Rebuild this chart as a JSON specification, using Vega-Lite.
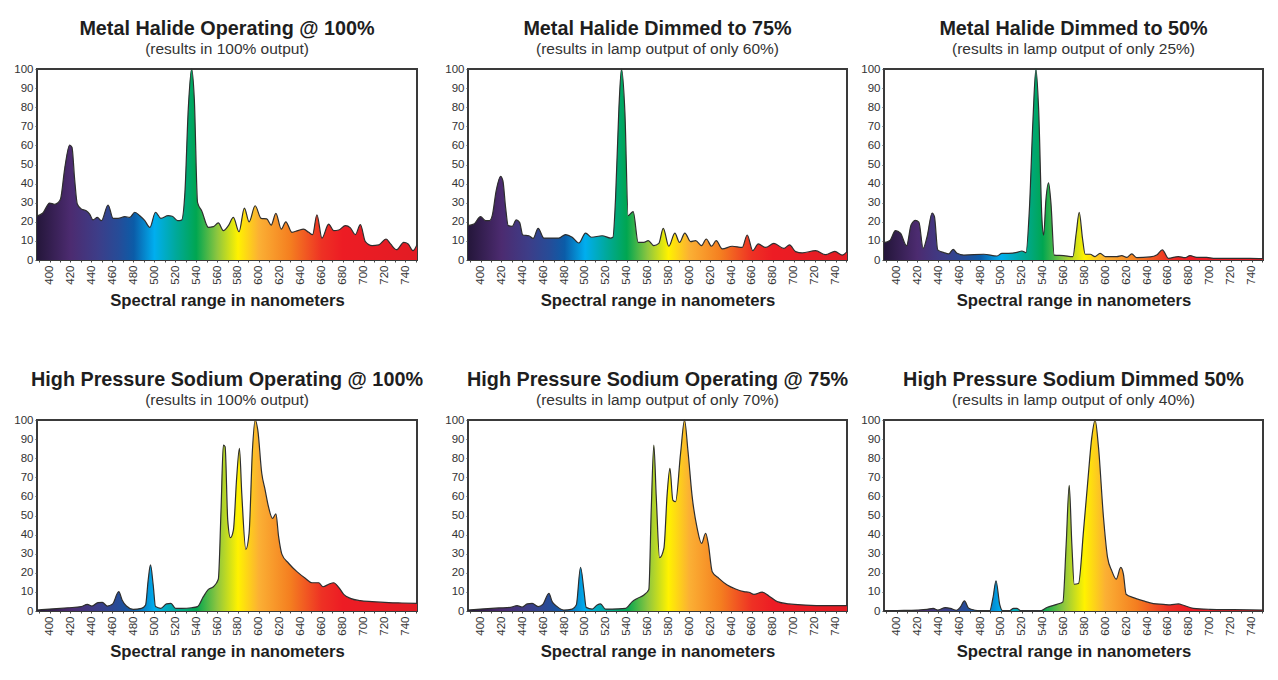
{
  "$schema": "https://vega.github.io/schema/vega-lite/v6.json",
  "background": "white",
  "padding": {"left": 6, "top": 17, "right": 5, "bottom": 5},
  "datasets": {
    "mh100": [
      {"nm":388,"v":23},{"nm":393.6,"v":24.6},{"nm":400,"v":29.8},{"nm":404.8,"v":29.2},{"nm":408,"v":30},{"nm":410.5,"v":32},{"nm":414.4,"v":47.6},{"nm":419.2,"v":60.2},{"nm":421.4,"v":59},{"nm":424,"v":42},{"nm":426.5,"v":29.3},{"nm":430.3,"v":26.7},{"nm":435,"v":25.8},{"nm":438.3,"v":24},{"nm":441.5,"v":21},{"nm":445.7,"v":22.3},{"nm":449.5,"v":20.6},{"nm":455.9,"v":28.8},{"nm":460.7,"v":21.8},{"nm":465.5,"v":21.8},{"nm":471.8,"v":22.7},{"nm":476.6,"v":22.3},{"nm":481.4,"v":25},{"nm":486.2,"v":23.2},{"nm":491,"v":20.6},{"nm":495.8,"v":17.1},{"nm":501.2,"v":25},{"nm":506.3,"v":21.8},{"nm":513.3,"v":23.2},{"nm":517.2,"v":22.9},{"nm":522.3,"v":20.6},{"nm":526.1,"v":20.9},{"nm":529.3,"v":35.4},{"nm":532.5,"v":79},{"nm":535.7,"v":100},{"nm":538.3,"v":84},{"nm":541.4,"v":30},{"nm":545.3,"v":25.8},{"nm":551.7,"v":17.1},{"nm":556.5,"v":17.5},{"nm":561.2,"v":19.4},{"nm":566,"v":15.4},{"nm":570.8,"v":18},{"nm":575.6,"v":22.3},{"nm":581,"v":14.8},{"nm":586.1,"v":27.2},{"nm":590.6,"v":20},{"nm":596.4,"v":28.4},{"nm":602.1,"v":21.8},{"nm":607.5,"v":21.5},{"nm":611.7,"v":18.3},{"nm":616.2,"v":24.4},{"nm":621.3,"v":16.2},{"nm":625.7,"v":20},{"nm":631.5,"v":14.5},{"nm":637.2,"v":15.4},{"nm":642.7,"v":16.2},{"nm":647.5,"v":14.5},{"nm":651.3,"v":13.3},{"nm":655.4,"v":23.7},{"nm":660.2,"v":11.5},{"nm":666.6,"v":18.8},{"nm":671.4,"v":15.4},{"nm":676.2,"v":15.7},{"nm":682.6,"v":18},{"nm":687.4,"v":16.8},{"nm":692.1,"v":13.3},{"nm":696.9,"v":18.5},{"nm":701.7,"v":9.6},{"nm":708.1,"v":7.5},{"nm":714.5,"v":7.9},{"nm":721.5,"v":11},{"nm":725.7,"v":8.4},{"nm":731.4,"v":5.4},{"nm":738.4,"v":9.2},{"nm":742.6,"v":8.4},{"nm":747.1,"v":4.9},{"nm":751,"v":8}
    ],
    "mh75": [
      {"nm":388,"v":18},{"nm":393.6,"v":18.8},{"nm":400,"v":22.7},{"nm":404.8,"v":20.6},{"nm":408.6,"v":20.6},{"nm":411.2,"v":23.2},{"nm":415,"v":36.3},{"nm":419.2,"v":43.8},{"nm":421.4,"v":41.5},{"nm":424,"v":27.6},{"nm":426.5,"v":18},{"nm":430.3,"v":17.6},{"nm":434.2,"v":21},{"nm":437.4,"v":19.7},{"nm":440.5,"v":13.1},{"nm":446.3,"v":12.7},{"nm":450.4,"v":11.3},{"nm":455.2,"v":16.6},{"nm":460.7,"v":11.5},{"nm":468.6,"v":11.5},{"nm":475,"v":11.5},{"nm":481.4,"v":13.3},{"nm":487.8,"v":11.9},{"nm":494.2,"v":8.9},{"nm":500.6,"v":14.1},{"nm":506.3,"v":11.9},{"nm":516.5,"v":12.7},{"nm":524.5,"v":11.5},{"nm":526.8,"v":11.9},{"nm":529.3,"v":32},{"nm":532.5,"v":79},{"nm":535,"v":100},{"nm":538.3,"v":77},{"nm":541.4,"v":23.2},{"nm":544.3,"v":24.6},{"nm":546.2,"v":25.3},{"nm":551,"v":9.2},{"nm":556.5,"v":9.2},{"nm":560.6,"v":10.1},{"nm":566,"v":7.5},{"nm":570.8,"v":8.7},{"nm":575,"v":16.6},{"nm":580.4,"v":7.2},{"nm":586.1,"v":14.1},{"nm":590.6,"v":9.2},{"nm":595.7,"v":14.1},{"nm":601.2,"v":9.6},{"nm":606,"v":10.1},{"nm":611.7,"v":7.5},{"nm":616.2,"v":11},{"nm":621.3,"v":7.2},{"nm":625.7,"v":10.1},{"nm":631.5,"v":5.8},{"nm":641.1,"v":7.2},{"nm":650.7,"v":6.6},{"nm":655.4,"v":13.1},{"nm":660.8,"v":4.9},{"nm":666,"v":8.4},{"nm":673,"v":6.6},{"nm":681,"v":8.7},{"nm":690.5,"v":6.1},{"nm":696,"v":7.9},{"nm":701.7,"v":4.4},{"nm":708.1,"v":3.7},{"nm":720.9,"v":4.9},{"nm":730.5,"v":2.8},{"nm":739.4,"v":4.5},{"nm":746.4,"v":2.6},{"nm":751,"v":4.4}
    ],
    "mh50": [
      {"nm":388,"v":9.1},{"nm":393.6,"v":10.2},{"nm":399,"v":15.4},{"nm":403.8,"v":14},{"nm":409.6,"v":7.5},{"nm":414,"v":18.4},{"nm":418.2,"v":20.7},{"nm":421.4,"v":19.8},{"nm":425.5,"v":6.1},{"nm":429.3,"v":12.3},{"nm":434.1,"v":24.6},{"nm":436.3,"v":22.8},{"nm":439.5,"v":5.3},{"nm":445.3,"v":3.9},{"nm":450,"v":3.2},{"nm":454.2,"v":5.6},{"nm":458,"v":3.5},{"nm":464.4,"v":2.6},{"nm":483.5,"v":3},{"nm":496.2,"v":2.1},{"nm":501,"v":3.5},{"nm":507.4,"v":3.5},{"nm":515.4,"v":4},{"nm":520.1,"v":4.7},{"nm":524,"v":3.9},{"nm":527.2,"v":26},{"nm":530.7,"v":73.7},{"nm":533.5,"v":100},{"nm":536.1,"v":79},{"nm":539.3,"v":21},{"nm":540.9,"v":13},{"nm":543.1,"v":31.6},{"nm":545.6,"v":40.4},{"nm":547.9,"v":29.8},{"nm":551,"v":2.6},{"nm":560,"v":2.3},{"nm":568.9,"v":1.8},{"nm":572.1,"v":14},{"nm":575,"v":24.9},{"nm":578.1,"v":11.4},{"nm":580.7,"v":3},{"nm":585.5,"v":3},{"nm":590.2,"v":1.8},{"nm":595,"v":3.5},{"nm":599.8,"v":1.8},{"nm":611,"v":1.8},{"nm":615.7,"v":2.3},{"nm":620.5,"v":1.4},{"nm":625.3,"v":3.2},{"nm":630.1,"v":1.2},{"nm":642.8,"v":1.6},{"nm":649.2,"v":2.6},{"nm":654.6,"v":5.3},{"nm":660.4,"v":0.9},{"nm":670,"v":1.8},{"nm":676.3,"v":1.2},{"nm":681.1,"v":2.3},{"nm":687.5,"v":1.4},{"nm":697,"v":1.4},{"nm":703.4,"v":0.9},{"nm":722.5,"v":0.9},{"nm":738.4,"v":0.9},{"nm":751,"v":0.7}
    ],
    "hps100": [
      {"nm":388,"v":0.5},{"nm":400,"v":1},{"nm":417.6,"v":1.7},{"nm":430.3,"v":2.3},{"nm":436.1,"v":3.5},{"nm":440.5,"v":2.6},{"nm":446.3,"v":4.4},{"nm":450.4,"v":4.5},{"nm":455.2,"v":2.6},{"nm":460,"v":3.5},{"nm":466.1,"v":10.1},{"nm":469.3,"v":5.8},{"nm":473.4,"v":2.6},{"nm":479.8,"v":0.9},{"nm":487.8,"v":1.4},{"nm":491.7,"v":3.1},{"nm":494.2,"v":16.2},{"nm":496.4,"v":24.1},{"nm":499,"v":13.6},{"nm":501.2,"v":2.3},{"nm":506.3,"v":1.4},{"nm":511.7,"v":3.7},{"nm":515.9,"v":4},{"nm":520.4,"v":1.4},{"nm":526.1,"v":1.4},{"nm":535.7,"v":1.7},{"nm":541.4,"v":2.3},{"nm":546.9,"v":7.5},{"nm":551.7,"v":11.3},{"nm":556.5,"v":12.7},{"nm":561.2,"v":16.6},{"nm":563.8,"v":52.9},{"nm":566,"v":86.9},{"nm":567.7,"v":86},{"nm":570.2,"v":47.6},{"nm":572.8,"v":38.4},{"nm":575.6,"v":42.4},{"nm":578.8,"v":70.3},{"nm":581.4,"v":85.2},{"nm":583.6,"v":61.6},{"nm":587.5,"v":32.3},{"nm":590.6,"v":40.7},{"nm":593.8,"v":84.3},{"nm":596.4,"v":100},{"nm":598.9,"v":94.8},{"nm":602.7,"v":72.1},{"nm":605.9,"v":63.4},{"nm":609.1,"v":54.6},{"nm":612.9,"v":48.5},{"nm":616.2,"v":50.8},{"nm":618.8,"v":38.9},{"nm":621.9,"v":29.8},{"nm":628.3,"v":25},{"nm":636.3,"v":20.6},{"nm":644.3,"v":17.1},{"nm":650.7,"v":14.8},{"nm":657.1,"v":14.8},{"nm":661.2,"v":12.7},{"nm":666.6,"v":14},{"nm":671.4,"v":14.8},{"nm":676.2,"v":12.4},{"nm":681,"v":8.7},{"nm":687.4,"v":6.6},{"nm":696.9,"v":5.4},{"nm":708.1,"v":4.9},{"nm":724.1,"v":4.4},{"nm":736.8,"v":4.2},{"nm":751,"v":4}
    ],
    "hps75": [
      {"nm":388,"v":0.5},{"nm":400,"v":1},{"nm":417.6,"v":1.6},{"nm":428.7,"v":1.9},{"nm":435,"v":2.8},{"nm":439.9,"v":2.1},{"nm":444.7,"v":3.7},{"nm":449.5,"v":4},{"nm":455.2,"v":2.3},{"nm":459.7,"v":3.5},{"nm":465.5,"v":9.2},{"nm":468.6,"v":4.9},{"nm":473.4,"v":2.3},{"nm":479.8,"v":0.5},{"nm":487.8,"v":1},{"nm":491.7,"v":3.1},{"nm":495.8,"v":22.9},{"nm":499,"v":11},{"nm":501.2,"v":1.9},{"nm":507,"v":1},{"nm":511.7,"v":3.1},{"nm":514.9,"v":3.7},{"nm":519.7,"v":1},{"nm":526.1,"v":1},{"nm":538.9,"v":1.4},{"nm":545.3,"v":4.9},{"nm":550.1,"v":6.6},{"nm":556.5,"v":8.4},{"nm":561.2,"v":11.3},{"nm":563.5,"v":52.9},{"nm":566,"v":86.9},{"nm":568.3,"v":59.9},{"nm":571.5,"v":27.9},{"nm":575.6,"v":32.8},{"nm":578.8,"v":61.6},{"nm":581.4,"v":74.7},{"nm":584.2,"v":58.1},{"nm":586.8,"v":57.2},{"nm":591.6,"v":82.5},{"nm":595.4,"v":100},{"nm":598.6,"v":84.3},{"nm":602.7,"v":59.9},{"nm":607.5,"v":43.3},{"nm":611.7,"v":35.4},{"nm":615.6,"v":40.7},{"nm":618.1,"v":35.4},{"nm":621.9,"v":20.6},{"nm":628.3,"v":17.1},{"nm":636.3,"v":13.6},{"nm":644.3,"v":11.5},{"nm":652.3,"v":10.1},{"nm":657.1,"v":9.8},{"nm":661.9,"v":8.7},{"nm":669.8,"v":9.9},{"nm":676.2,"v":7.9},{"nm":684.2,"v":4.9},{"nm":695.3,"v":3.7},{"nm":711.3,"v":3.1},{"nm":730.5,"v":2.8},{"nm":751,"v":2.8}
    ],
    "hps50": [
      {"nm":388,"v":0},{"nm":400.6,"v":0.2},{"nm":419.8,"v":0.5},{"nm":429.3,"v":0.9},{"nm":435.1,"v":1.4},{"nm":439.5,"v":0.5},{"nm":446.8,"v":1.8},{"nm":451.6,"v":1.4},{"nm":457.4,"v":0.4},{"nm":461.2,"v":2.1},{"nm":465,"v":5.3},{"nm":469.2,"v":1.4},{"nm":475.5,"v":0.4},{"nm":481.9,"v":0},{"nm":489.2,"v":0},{"nm":492.4,"v":7},{"nm":495.3,"v":15.8},{"nm":498.8,"v":3.5},{"nm":502,"v":0},{"nm":507.4,"v":0},{"nm":512.2,"v":1.4},{"nm":515.4,"v":1.4},{"nm":519.2,"v":0},{"nm":537.7,"v":0},{"nm":544,"v":1.8},{"nm":553.6,"v":3.5},{"nm":559.3,"v":4.7},{"nm":562.5,"v":35.1},{"nm":565.4,"v":65.8},{"nm":567.9,"v":35.1},{"nm":570.2,"v":14},{"nm":574.3,"v":14.4},{"nm":579.1,"v":42.1},{"nm":583,"v":66.7},{"nm":587.1,"v":91.2},{"nm":590.2,"v":100},{"nm":593.4,"v":86},{"nm":598.2,"v":49.1},{"nm":602.1,"v":28.1},{"nm":606.2,"v":21},{"nm":610.4,"v":16.7},{"nm":614.8,"v":22.8},{"nm":617.3,"v":19.3},{"nm":619.9,"v":8.8},{"nm":626.9,"v":7},{"nm":636.5,"v":5.3},{"nm":646,"v":3.9},{"nm":655.6,"v":3.5},{"nm":662,"v":3.2},{"nm":670,"v":3.7},{"nm":674.7,"v":3},{"nm":684.3,"v":1.4},{"nm":700.2,"v":0.9},{"nm":722.5,"v":0.7},{"nm":751,"v":0.5}
    ]
  },
  "columns": 3,
  "align": "each",
  "spacing": {"row": 58, "column": 0},
  "concat": [
    {
      "data": {"name": "mh100"}, "width": 380, "height": 191,
      "title": {"text": "Metal Halide Operating @ 100%", "subtitle": "(results in 100% output)"},
      "mark": {"type": "area", "interpolate": "monotone", "opacity": 1, "fillOpacity": 1, "fill": {"gradient": "linear", "x1": 0, "y1": 0, "x2": 1, "y2": 0, "stops": [{"offset": 0, "color": "#24163a"}, {"offset": 0.088, "color": "#4c2b70"}, {"offset": 0.16, "color": "#3d3d88"}, {"offset": 0.215, "color": "#264c98"}, {"offset": 0.255, "color": "#0b5ca8"}, {"offset": 0.309, "color": "#00aeef"}, {"offset": 0.364, "color": "#00a99d"}, {"offset": 0.419, "color": "#00a651"}, {"offset": 0.474, "color": "#8dc63f"}, {"offset": 0.529, "color": "#fff200"}, {"offset": 0.584, "color": "#fbb034"}, {"offset": 0.667, "color": "#f47e20"}, {"offset": 0.749, "color": "#ee3124"}, {"offset": 0.804, "color": "#ed1c24"}, {"offset": 1, "color": "#e21c24"}]}, "line": {"stroke": "#2e2e2e", "strokeWidth": 1.2}},
      "encoding": {
        "x": {"field": "nm", "type": "quantitative", "scale": {"domain": [388, 751], "nice": false, "zero": false}, "axis": {"title": "Spectral range in nanometers", "values": [390,400,410,420,430,440,450,460,470,480,490,500,510,520,530,540,550,560,570,580,590,600,610,620,630,640,650,660,670,680,690,700,710,720,730,740,750], "labelExpr": "datum.value % 20 == 0 ? datum.label : ''"}},
        "y": {"field": "v", "type": "quantitative", "scale": {"domain": [0, 100], "nice": false}, "axis": {"title": null, "minExtent": 30, "maxExtent": 30, "values": [0,10,20,30,40,50,60,70,80,90,100]}}
      }
    },
    {
      "data": {"name": "mh75"}, "width": 379, "height": 191,
      "title": {"text": "Metal Halide Dimmed to 75%", "subtitle": "(results in lamp output of only 60%)"},
      "mark": {"type": "area", "interpolate": "monotone", "opacity": 1, "fillOpacity": 1, "fill": {"gradient": "linear", "x1": 0, "y1": 0, "x2": 1, "y2": 0, "stops": [{"offset": 0, "color": "#24163a"}, {"offset": 0.088, "color": "#4c2b70"}, {"offset": 0.16, "color": "#3d3d88"}, {"offset": 0.215, "color": "#264c98"}, {"offset": 0.255, "color": "#0b5ca8"}, {"offset": 0.309, "color": "#00aeef"}, {"offset": 0.364, "color": "#00a99d"}, {"offset": 0.419, "color": "#00a651"}, {"offset": 0.474, "color": "#8dc63f"}, {"offset": 0.529, "color": "#fff200"}, {"offset": 0.584, "color": "#fbb034"}, {"offset": 0.667, "color": "#f47e20"}, {"offset": 0.749, "color": "#ee3124"}, {"offset": 0.804, "color": "#ed1c24"}, {"offset": 1, "color": "#e21c24"}]}, "line": {"stroke": "#2e2e2e", "strokeWidth": 1.2}},
      "encoding": {
        "x": {"field": "nm", "type": "quantitative", "scale": {"domain": [388, 751], "nice": false, "zero": false}, "axis": {"title": "Spectral range in nanometers", "values": [390,400,410,420,430,440,450,460,470,480,490,500,510,520,530,540,550,560,570,580,590,600,610,620,630,640,650,660,670,680,690,700,710,720,730,740,750], "labelExpr": "datum.value % 20 == 0 ? datum.label : ''"}},
        "y": {"field": "v", "type": "quantitative", "scale": {"domain": [0, 100], "nice": false}, "axis": {"title": null, "minExtent": 43, "maxExtent": 43, "values": [0,10,20,30,40,50,60,70,80,90,100]}}
      }
    },
    {
      "data": {"name": "mh50"}, "width": 379, "height": 191,
      "title": {"text": "Metal Halide Dimmed to 50%", "subtitle": "(results in lamp output of only 25%)"},
      "mark": {"type": "area", "interpolate": "monotone", "opacity": 1, "fillOpacity": 1, "fill": {"gradient": "linear", "x1": 0, "y1": 0, "x2": 1, "y2": 0, "stops": [{"offset": 0, "color": "#24163a"}, {"offset": 0.088, "color": "#4c2b70"}, {"offset": 0.16, "color": "#3d3d88"}, {"offset": 0.215, "color": "#264c98"}, {"offset": 0.255, "color": "#0b5ca8"}, {"offset": 0.309, "color": "#00aeef"}, {"offset": 0.364, "color": "#00a99d"}, {"offset": 0.419, "color": "#00a651"}, {"offset": 0.474, "color": "#8dc63f"}, {"offset": 0.529, "color": "#fff200"}, {"offset": 0.584, "color": "#fbb034"}, {"offset": 0.667, "color": "#f47e20"}, {"offset": 0.749, "color": "#ee3124"}, {"offset": 0.804, "color": "#ed1c24"}, {"offset": 1, "color": "#e21c24"}]}, "line": {"stroke": "#2e2e2e", "strokeWidth": 1.2}},
      "encoding": {
        "x": {"field": "nm", "type": "quantitative", "scale": {"domain": [388, 751], "nice": false, "zero": false}, "axis": {"title": "Spectral range in nanometers", "values": [390,400,410,420,430,440,450,460,470,480,490,500,510,520,530,540,550,560,570,580,590,600,610,620,630,640,650,660,670,680,690,700,710,720,730,740,750], "labelExpr": "datum.value % 20 == 0 ? datum.label : ''"}},
        "y": {"field": "v", "type": "quantitative", "scale": {"domain": [0, 100], "nice": false}, "axis": {"title": null, "minExtent": 30, "maxExtent": 30, "values": [0,10,20,30,40,50,60,70,80,90,100]}}
      }
    },
    {
      "data": {"name": "hps100"}, "width": 380, "height": 191,
      "title": {"text": "High Pressure Sodium Operating @ 100%", "subtitle": "(results in 100% output)"},
      "mark": {"type": "area", "interpolate": "monotone", "opacity": 1, "fillOpacity": 1, "fill": {"gradient": "linear", "x1": 0, "y1": 0, "x2": 1, "y2": 0, "stops": [{"offset": 0, "color": "#24163a"}, {"offset": 0.088, "color": "#4c2b70"}, {"offset": 0.16, "color": "#3d3d88"}, {"offset": 0.215, "color": "#264c98"}, {"offset": 0.255, "color": "#0b5ca8"}, {"offset": 0.309, "color": "#00aeef"}, {"offset": 0.364, "color": "#00a99d"}, {"offset": 0.419, "color": "#00a651"}, {"offset": 0.474, "color": "#8dc63f"}, {"offset": 0.529, "color": "#fff200"}, {"offset": 0.584, "color": "#fbb034"}, {"offset": 0.667, "color": "#f47e20"}, {"offset": 0.749, "color": "#ee3124"}, {"offset": 0.804, "color": "#ed1c24"}, {"offset": 1, "color": "#e21c24"}]}, "line": {"stroke": "#2e2e2e", "strokeWidth": 1.2}},
      "encoding": {
        "x": {"field": "nm", "type": "quantitative", "scale": {"domain": [388, 751], "nice": false, "zero": false}, "axis": {"title": "Spectral range in nanometers", "values": [390,400,410,420,430,440,450,460,470,480,490,500,510,520,530,540,550,560,570,580,590,600,610,620,630,640,650,660,670,680,690,700,710,720,730,740,750], "labelExpr": "datum.value % 20 == 0 ? datum.label : ''"}},
        "y": {"field": "v", "type": "quantitative", "scale": {"domain": [0, 100], "nice": false}, "axis": {"title": null, "minExtent": 30, "maxExtent": 30, "values": [0,10,20,30,40,50,60,70,80,90,100]}}
      }
    },
    {
      "data": {"name": "hps75"}, "width": 379, "height": 191,
      "title": {"text": "High Pressure Sodium Operating @ 75%", "subtitle": "(results in lamp output of only 70%)"},
      "mark": {"type": "area", "interpolate": "monotone", "opacity": 1, "fillOpacity": 1, "fill": {"gradient": "linear", "x1": 0, "y1": 0, "x2": 1, "y2": 0, "stops": [{"offset": 0, "color": "#24163a"}, {"offset": 0.088, "color": "#4c2b70"}, {"offset": 0.16, "color": "#3d3d88"}, {"offset": 0.215, "color": "#264c98"}, {"offset": 0.255, "color": "#0b5ca8"}, {"offset": 0.309, "color": "#00aeef"}, {"offset": 0.364, "color": "#00a99d"}, {"offset": 0.419, "color": "#00a651"}, {"offset": 0.474, "color": "#8dc63f"}, {"offset": 0.529, "color": "#fff200"}, {"offset": 0.584, "color": "#fbb034"}, {"offset": 0.667, "color": "#f47e20"}, {"offset": 0.749, "color": "#ee3124"}, {"offset": 0.804, "color": "#ed1c24"}, {"offset": 1, "color": "#e21c24"}]}, "line": {"stroke": "#2e2e2e", "strokeWidth": 1.2}},
      "encoding": {
        "x": {"field": "nm", "type": "quantitative", "scale": {"domain": [388, 751], "nice": false, "zero": false}, "axis": {"title": "Spectral range in nanometers", "values": [390,400,410,420,430,440,450,460,470,480,490,500,510,520,530,540,550,560,570,580,590,600,610,620,630,640,650,660,670,680,690,700,710,720,730,740,750], "labelExpr": "datum.value % 20 == 0 ? datum.label : ''"}},
        "y": {"field": "v", "type": "quantitative", "scale": {"domain": [0, 100], "nice": false}, "axis": {"title": null, "minExtent": 43, "maxExtent": 43, "values": [0,10,20,30,40,50,60,70,80,90,100]}}
      }
    },
    {
      "data": {"name": "hps50"}, "width": 379, "height": 191,
      "title": {"text": "High Pressure Sodium Dimmed 50%", "subtitle": "(results in lamp output of only 40%)"},
      "mark": {"type": "area", "interpolate": "monotone", "opacity": 1, "fillOpacity": 1, "fill": {"gradient": "linear", "x1": 0, "y1": 0, "x2": 1, "y2": 0, "stops": [{"offset": 0, "color": "#24163a"}, {"offset": 0.088, "color": "#4c2b70"}, {"offset": 0.16, "color": "#3d3d88"}, {"offset": 0.215, "color": "#264c98"}, {"offset": 0.255, "color": "#0b5ca8"}, {"offset": 0.309, "color": "#00aeef"}, {"offset": 0.364, "color": "#00a99d"}, {"offset": 0.419, "color": "#00a651"}, {"offset": 0.474, "color": "#8dc63f"}, {"offset": 0.529, "color": "#fff200"}, {"offset": 0.584, "color": "#fbb034"}, {"offset": 0.667, "color": "#f47e20"}, {"offset": 0.749, "color": "#ee3124"}, {"offset": 0.804, "color": "#ed1c24"}, {"offset": 1, "color": "#e21c24"}]}, "line": {"stroke": "#2e2e2e", "strokeWidth": 1.2}},
      "encoding": {
        "x": {"field": "nm", "type": "quantitative", "scale": {"domain": [388, 751], "nice": false, "zero": false}, "axis": {"title": "Spectral range in nanometers", "values": [390,400,410,420,430,440,450,460,470,480,490,500,510,520,530,540,550,560,570,580,590,600,610,620,630,640,650,660,670,680,690,700,710,720,730,740,750], "labelExpr": "datum.value % 20 == 0 ? datum.label : ''"}},
        "y": {"field": "v", "type": "quantitative", "scale": {"domain": [0, 100], "nice": false}, "axis": {"title": null, "minExtent": 30, "maxExtent": 30, "values": [0,10,20,30,40,50,60,70,80,90,100]}}
      }
    }
  ],
  "config": {
    "font": "Liberation Sans",
    "view": {"stroke": "#3a3a3a", "strokeWidth": 2},
    "title": {"font": "Liberation Sans", "fontSize": 19.8, "fontWeight": "bold", "color": "#1e1e1e", "subtitleFont": "Liberation Sans", "subtitleFontSize": 15.5, "subtitleColor": "#333333", "subtitlePadding": 3, "anchor": "middle", "offset": 6},
    "axis": {"grid": false, "domain": false, "tickSize": 2, "tickColor": "#444444", "tickWidth": 1, "labelFont": "Liberation Sans", "labelFontSize": 11.5, "labelColor": "#333333", "labelPadding": 2, "labelOverlap": false, "labelFlush": false, "labelBound": false},
    "axisX": {"labelAngle": -90, "labelAlign": "right", "labelBaseline": "middle", "labelPadding": 3, "titleFont": "Liberation Sans", "titleFontSize": 16.7, "titleFontWeight": "bold", "titleColor": "#1e1e1e", "titlePadding": 8},
    "axisY": {"labelFontSize": 11.5}
  }
}
